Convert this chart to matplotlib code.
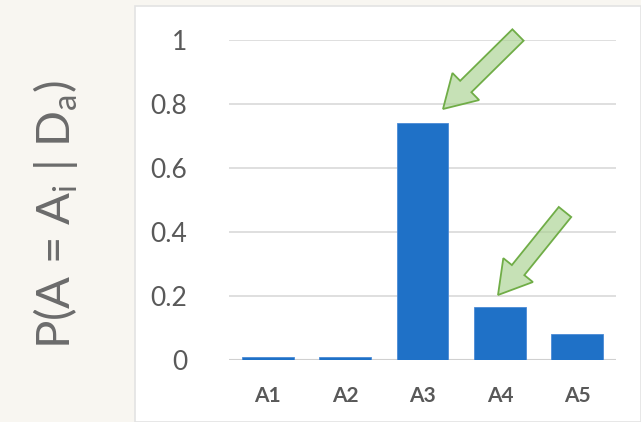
import matplotlib
matplotlib.use("Agg")
import matplotlib.pyplot as plt
from matplotlib.patches import Rectangle, FancyArrow

plt.rcParams['font.family'] = ['Lato', 'DejaVu Sans']
plt.rcParams['mathtext.default'] = 'regular'

# data
categories = ['A1', 'A2', 'A3', 'A4', 'A5']
probs = [0.008, 0.008, 0.74, 0.166, 0.081]
y_ticks = [0, 0.2, 0.4, 0.6, 0.8, 1]
y_tick_labels = ['0', '0.2', '0.4', '0.6', '0.8', '1']

grey = '#595959'
bar_blue = '#1f71c7'

fig = plt.figure(figsize=(6.41, 4.22), dpi=100)
fig.patch.set_facecolor('#f8f6f1')

# white chart panel behind the axes
panel = Rectangle((135 / 641, 0), 1 - 135 / 641, 1 - 6 / 422, transform=fig.transFigure,
                  facecolor='white', edgecolor='#e3e3e3', lw=1.2, zorder=0)
fig.patches.append(panel)

ax = fig.add_axes([229 / 641, 62 / 422, 387 / 641, 320 / 422])
ax.set_zorder(2)
ax.set_facecolor('none')

x = range(len(categories))
ax.bar(x, probs, width=0.67, color=bar_blue, edgecolor='#4a8ad6', lw=0.6, zorder=3)

ax.set_xlim(-0.5, len(categories) - 0.5)
ax.set_ylim(0, 1)
ax.set_yticks(y_ticks)
ax.set_yticklabels(y_tick_labels, fontsize=19, color=grey)
ax.set_xticks(list(x))
ax.set_xticklabels(categories, fontsize=15, fontweight='bold', color=grey)
ax.tick_params(axis='y', length=0, pad=30)
ax.tick_params(axis='x', length=0, pad=19)
ax.grid(axis='y', color='#d9d9d9', lw=1.2, zorder=0)
for s in ax.spines.values():
    s.set_visible(False)
ax.axhline(0, color='#d0d0d0', lw=1.5, zorder=2)

# green callout arrows (pixel positions, y from top)
def add_arrow(p0, p1):
    a = FancyArrow(p0[0], 422 - p0[1], p1[0] - p0[0], -(p1[1] - p0[1]),
                   width=16, head_width=38, head_length=32,
                   length_includes_head=True, transform=None,
                   facecolor=(0.66, 0.82, 0.56, 0.65), edgecolor='#70ad47',
                   lw=1.3, zorder=5)
    fig.patches.append(a)

add_arrow((518, 35), (443, 109))
add_arrow((565, 212), (498, 295))

fig.text(55 / 641, 1 - 215 / 422, 'P(A = A$_i$ | D$_a$)', rotation=90,
         fontsize=34, color='#6b6b6b', ha='center', va='center')

fig.savefig('out.png', dpi=100, facecolor=fig.get_facecolor())
